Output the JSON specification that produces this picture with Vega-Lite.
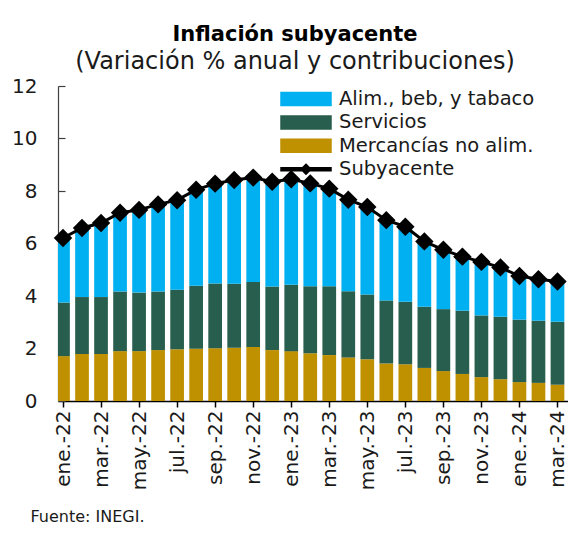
{
  "$schema": "https://vega.github.io/schema/vega-lite/v6.json",
  "width": 510,
  "height": 315,
  "autosize": {"type": "none"},
  "padding": {"left": 58, "top": 86, "right": 0, "bottom": 132},
  "background": "white",
  "config": {
    "font": "DejaVu Sans",
    "view": {"stroke": null}
  },
  "title": {
    "text": "Inflación subyacente",
    "subtitle": "(Variación % anual y contribuciones)",
    "anchor": "middle",
    "frame": "group",
    "dx": -18,
    "fontSize": 21,
    "fontWeight": "bold",
    "color": "#000000",
    "subtitleFontSize": 24,
    "subtitleColor": "#1a1a1a",
    "subtitlePadding": 5,
    "offset": 2
  },
  "datasets": {
    "contrib": [
      {"i": 0, "mes": "ene.-22", "serie": "Mercancías no alim.", "valor": 1.71},
      {"i": 0, "mes": "ene.-22", "serie": "Servicios", "valor": 2.04},
      {"i": 0, "mes": "ene.-22", "serie": "Alim., beb, y tabaco", "valor": 2.46},
      {"i": 1, "mes": "feb.-22", "serie": "Mercancías no alim.", "valor": 1.79},
      {"i": 1, "mes": "feb.-22", "serie": "Servicios", "valor": 2.17},
      {"i": 1, "mes": "feb.-22", "serie": "Alim., beb, y tabaco", "valor": 2.63},
      {"i": 2, "mes": "mar.-22", "serie": "Mercancías no alim.", "valor": 1.79},
      {"i": 2, "mes": "mar.-22", "serie": "Servicios", "valor": 2.17},
      {"i": 2, "mes": "mar.-22", "serie": "Alim., beb, y tabaco", "valor": 2.82},
      {"i": 3, "mes": "abr.-22", "serie": "Mercancías no alim.", "valor": 1.90},
      {"i": 3, "mes": "abr.-22", "serie": "Servicios", "valor": 2.27},
      {"i": 3, "mes": "abr.-22", "serie": "Alim., beb, y tabaco", "valor": 3.00},
      {"i": 4, "mes": "may.-22", "serie": "Mercancías no alim.", "valor": 1.90},
      {"i": 4, "mes": "may.-22", "serie": "Servicios", "valor": 2.23},
      {"i": 4, "mes": "may.-22", "serie": "Alim., beb, y tabaco", "valor": 3.15},
      {"i": 5, "mes": "jun.-22", "serie": "Mercancías no alim.", "valor": 1.94},
      {"i": 5, "mes": "jun.-22", "serie": "Servicios", "valor": 2.23},
      {"i": 5, "mes": "jun.-22", "serie": "Alim., beb, y tabaco", "valor": 3.32},
      {"i": 6, "mes": "jul.-22", "serie": "Mercancías no alim.", "valor": 1.97},
      {"i": 6, "mes": "jul.-22", "serie": "Servicios", "valor": 2.27},
      {"i": 6, "mes": "jul.-22", "serie": "Alim., beb, y tabaco", "valor": 3.41},
      {"i": 7, "mes": "ago.-22", "serie": "Mercancías no alim.", "valor": 1.99},
      {"i": 7, "mes": "ago.-22", "serie": "Servicios", "valor": 2.40},
      {"i": 7, "mes": "ago.-22", "serie": "Alim., beb, y tabaco", "valor": 3.66},
      {"i": 8, "mes": "sep.-22", "serie": "Mercancías no alim.", "valor": 2.01},
      {"i": 8, "mes": "sep.-22", "serie": "Servicios", "valor": 2.47},
      {"i": 8, "mes": "sep.-22", "serie": "Alim., beb, y tabaco", "valor": 3.80},
      {"i": 9, "mes": "oct.-22", "serie": "Mercancías no alim.", "valor": 2.03},
      {"i": 9, "mes": "oct.-22", "serie": "Servicios", "valor": 2.44},
      {"i": 9, "mes": "oct.-22", "serie": "Alim., beb, y tabaco", "valor": 3.95},
      {"i": 10, "mes": "nov.-22", "serie": "Mercancías no alim.", "valor": 2.06},
      {"i": 10, "mes": "nov.-22", "serie": "Servicios", "valor": 2.47},
      {"i": 10, "mes": "nov.-22", "serie": "Alim., beb, y tabaco", "valor": 3.98},
      {"i": 11, "mes": "dic.-22", "serie": "Mercancías no alim.", "valor": 1.94},
      {"i": 11, "mes": "dic.-22", "serie": "Servicios", "valor": 2.42},
      {"i": 11, "mes": "dic.-22", "serie": "Alim., beb, y tabaco", "valor": 3.99},
      {"i": 12, "mes": "ene.-23", "serie": "Mercancías no alim.", "valor": 1.90},
      {"i": 12, "mes": "ene.-23", "serie": "Servicios", "valor": 2.53},
      {"i": 12, "mes": "ene.-23", "serie": "Alim., beb, y tabaco", "valor": 4.02},
      {"i": 13, "mes": "feb.-23", "serie": "Mercancías no alim.", "valor": 1.82},
      {"i": 13, "mes": "feb.-23", "serie": "Servicios", "valor": 2.55},
      {"i": 13, "mes": "feb.-23", "serie": "Alim., beb, y tabaco", "valor": 3.92},
      {"i": 14, "mes": "mar.-23", "serie": "Mercancías no alim.", "valor": 1.75},
      {"i": 14, "mes": "mar.-23", "serie": "Servicios", "valor": 2.62},
      {"i": 14, "mes": "mar.-23", "serie": "Alim., beb, y tabaco", "valor": 3.72},
      {"i": 15, "mes": "abr.-23", "serie": "Mercancías no alim.", "valor": 1.66},
      {"i": 15, "mes": "abr.-23", "serie": "Servicios", "valor": 2.52},
      {"i": 15, "mes": "abr.-23", "serie": "Alim., beb, y tabaco", "valor": 3.49},
      {"i": 16, "mes": "may.-23", "serie": "Mercancías no alim.", "valor": 1.59},
      {"i": 16, "mes": "may.-23", "serie": "Servicios", "valor": 2.47},
      {"i": 16, "mes": "may.-23", "serie": "Alim., beb, y tabaco", "valor": 3.33},
      {"i": 17, "mes": "jun.-23", "serie": "Mercancías no alim.", "valor": 1.43},
      {"i": 17, "mes": "jun.-23", "serie": "Servicios", "valor": 2.40},
      {"i": 17, "mes": "jun.-23", "serie": "Alim., beb, y tabaco", "valor": 3.06},
      {"i": 18, "mes": "jul.-23", "serie": "Mercancías no alim.", "valor": 1.40},
      {"i": 18, "mes": "jul.-23", "serie": "Servicios", "valor": 2.38},
      {"i": 18, "mes": "jul.-23", "serie": "Alim., beb, y tabaco", "valor": 2.86},
      {"i": 19, "mes": "ago.-23", "serie": "Mercancías no alim.", "valor": 1.26},
      {"i": 19, "mes": "ago.-23", "serie": "Servicios", "valor": 2.33},
      {"i": 19, "mes": "ago.-23", "serie": "Alim., beb, y tabaco", "valor": 2.49},
      {"i": 20, "mes": "sep.-23", "serie": "Mercancías no alim.", "valor": 1.14},
      {"i": 20, "mes": "sep.-23", "serie": "Servicios", "valor": 2.36},
      {"i": 20, "mes": "sep.-23", "serie": "Alim., beb, y tabaco", "valor": 2.26},
      {"i": 21, "mes": "oct.-23", "serie": "Mercancías no alim.", "valor": 1.03},
      {"i": 21, "mes": "oct.-23", "serie": "Servicios", "valor": 2.41},
      {"i": 21, "mes": "oct.-23", "serie": "Alim., beb, y tabaco", "valor": 2.06},
      {"i": 22, "mes": "nov.-23", "serie": "Mercancías no alim.", "valor": 0.91},
      {"i": 22, "mes": "nov.-23", "serie": "Servicios", "valor": 2.35},
      {"i": 22, "mes": "nov.-23", "serie": "Alim., beb, y tabaco", "valor": 2.04},
      {"i": 23, "mes": "dic.-23", "serie": "Mercancías no alim.", "valor": 0.83},
      {"i": 23, "mes": "dic.-23", "serie": "Servicios", "valor": 2.38},
      {"i": 23, "mes": "dic.-23", "serie": "Alim., beb, y tabaco", "valor": 1.88},
      {"i": 24, "mes": "ene.-24", "serie": "Mercancías no alim.", "valor": 0.72},
      {"i": 24, "mes": "ene.-24", "serie": "Servicios", "valor": 2.38},
      {"i": 24, "mes": "ene.-24", "serie": "Alim., beb, y tabaco", "valor": 1.66},
      {"i": 25, "mes": "feb.-24", "serie": "Mercancías no alim.", "valor": 0.69},
      {"i": 25, "mes": "feb.-24", "serie": "Servicios", "valor": 2.37},
      {"i": 25, "mes": "feb.-24", "serie": "Alim., beb, y tabaco", "valor": 1.58},
      {"i": 26, "mes": "mar.-24", "serie": "Mercancías no alim.", "valor": 0.62},
      {"i": 26, "mes": "mar.-24", "serie": "Servicios", "valor": 2.40},
      {"i": 26, "mes": "mar.-24", "serie": "Alim., beb, y tabaco", "valor": 1.53}
    ],
    "sub": [
      {"i": 0, "mes": "ene.-22", "serie": "Subyacente", "valor": 6.21},
      {"i": 1, "mes": "feb.-22", "serie": "Subyacente", "valor": 6.59},
      {"i": 2, "mes": "mar.-22", "serie": "Subyacente", "valor": 6.78},
      {"i": 3, "mes": "abr.-22", "serie": "Subyacente", "valor": 7.17},
      {"i": 4, "mes": "may.-22", "serie": "Subyacente", "valor": 7.28},
      {"i": 5, "mes": "jun.-22", "serie": "Subyacente", "valor": 7.49},
      {"i": 6, "mes": "jul.-22", "serie": "Subyacente", "valor": 7.65},
      {"i": 7, "mes": "ago.-22", "serie": "Subyacente", "valor": 8.05},
      {"i": 8, "mes": "sep.-22", "serie": "Subyacente", "valor": 8.28},
      {"i": 9, "mes": "oct.-22", "serie": "Subyacente", "valor": 8.42},
      {"i": 10, "mes": "nov.-22", "serie": "Subyacente", "valor": 8.51},
      {"i": 11, "mes": "dic.-22", "serie": "Subyacente", "valor": 8.35},
      {"i": 12, "mes": "ene.-23", "serie": "Subyacente", "valor": 8.45},
      {"i": 13, "mes": "feb.-23", "serie": "Subyacente", "valor": 8.29},
      {"i": 14, "mes": "mar.-23", "serie": "Subyacente", "valor": 8.09},
      {"i": 15, "mes": "abr.-23", "serie": "Subyacente", "valor": 7.67},
      {"i": 16, "mes": "may.-23", "serie": "Subyacente", "valor": 7.39},
      {"i": 17, "mes": "jun.-23", "serie": "Subyacente", "valor": 6.89},
      {"i": 18, "mes": "jul.-23", "serie": "Subyacente", "valor": 6.64},
      {"i": 19, "mes": "ago.-23", "serie": "Subyacente", "valor": 6.08},
      {"i": 20, "mes": "sep.-23", "serie": "Subyacente", "valor": 5.76},
      {"i": 21, "mes": "oct.-23", "serie": "Subyacente", "valor": 5.50},
      {"i": 22, "mes": "nov.-23", "serie": "Subyacente", "valor": 5.30},
      {"i": 23, "mes": "dic.-23", "serie": "Subyacente", "valor": 5.09},
      {"i": 24, "mes": "ene.-24", "serie": "Subyacente", "valor": 4.76},
      {"i": 25, "mes": "feb.-24", "serie": "Subyacente", "valor": 4.64},
      {"i": 26, "mes": "mar.-24", "serie": "Subyacente", "valor": 4.55}
    ]
  },
  "encoding": {
    "x": {
      "field": "i",
      "type": "quantitative",
      "scale": {"domain": [0, 26.29], "nice": false, "zero": false},
      "axis": {
        "title": "Fuente: INEGI.",
        "titleX": -28,
        "titleY": 115,
        "titleAlign": "left",
        "titleAnchor": null,
        "titleBaseline": "middle",
        "titleFontSize": 16,
        "titleFontWeight": "normal",
        "titleColor": "#1a1a1a",
        "values": [0, 2, 4, 6, 8, 10, 12, 14, 16, 18, 20, 22, 24, 26],
        "labelExpr": "['ene.','feb.','mar.','abr.','may.','jun.','jul.','ago.','sep.','oct.','nov.','dic.'][datum.value % 12] + '-' + (22 + floor(datum.value / 12))",
        "labelAngle": -90,
        "labelAlign": "right",
        "labelBaseline": "middle",
        "labelFontSize": 20,
        "labelColor": "#1a1a1a",
        "labelPadding": 3,
        "labelOverlap": false,
        "labelFlush": false,
        "domainColor": "#000000",
        "domainWidth": 1.5,
        "tickColor": "#000000",
        "tickWidth": 1.5,
        "tickSize": 6,
        "grid": false
      }
    },
    "y": {
      "field": "valor",
      "type": "quantitative",
      "scale": {"domain": [0, 12], "nice": false},
      "axis": {
        "title": null,
        "values": [0, 2, 4, 6, 8, 10, 12],
        "labelFontSize": 20,
        "labelColor": "#1a1a1a",
        "labelPadding": 28,
        "domainColor": "#404040",
        "domainWidth": 1.2,
        "tickColor": "#404040",
        "tickWidth": 1.2,
        "tickSize": -7,
        "grid": false
      }
    }
  },
  "layer": [
    {
      "data": {"name": "contrib"},
      "transform": [
        {"calculate": "indexof(['Mercancías no alim.', 'Servicios', 'Alim., beb, y tabaco'], datum.serie)", "as": "orden"}
      ],
      "mark": {"type": "bar", "orient": "vertical", "width": 13.7, "clip": true},
      "encoding": {
        "y": {"field": "valor", "type": "quantitative", "stack": "zero"},
        "order": {"field": "orden", "type": "quantitative"},
        "color": {
          "field": "serie",
          "type": "nominal",
          "scale": {
            "domain": ["Alim., beb, y tabaco", "Servicios", "Mercancías no alim.", "Subyacente"],
            "range": ["#00B0F0", "#285E4D", "#BF9000", "#000000"]
          },
          "legend": {
            "title": null,
            "orient": "none",
            "legendX": 237,
            "legendY": 2,
            "labelFontSize": 19.5,
            "labelColor": "#1a1a1a",
            "labelOffset": 22,
            "labelLimit": 400,
            "symbolSize": 400,
            "rowPadding": 2.4,
            "encode": {
              "symbols": {
                "update": {
                  "shape": {"signal": "datum.value === 'Subyacente' ? 'M-2.5,-0.15H2.5V0.15H-2.5Z M0,-0.5L0.5,0L0,0.5L-0.5,0Z' : 'M-2.5,-0.65H2.5V0.65H-2.5Z'"},
                  "fill": {"signal": "datum.value === 'Subyacente' ? '#000000' : datum.value === 'Servicios' ? '#285E4D' : datum.value === 'Mercancías no alim.' ? '#BF9000' : '#00B0F0'"},
                  "stroke": {"value": "transparent"},
                  "size": {"value": 400},
                  "opacity": {"value": 1}
                }
              }
            }
          }
        }
      }
    },
    {
      "data": {"name": "sub"},
      "mark": {"type": "line", "color": "#000000", "strokeWidth": 3, "clip": false},
      "encoding": {
        "color": {"field": "serie", "type": "nominal"}
      }
    },
    {
      "data": {"name": "sub"},
      "mark": {"type": "point", "shape": "diamond", "filled": true, "size": 340, "color": "#000000", "opacity": 1},
      "encoding": {}
    }
  ]
}
